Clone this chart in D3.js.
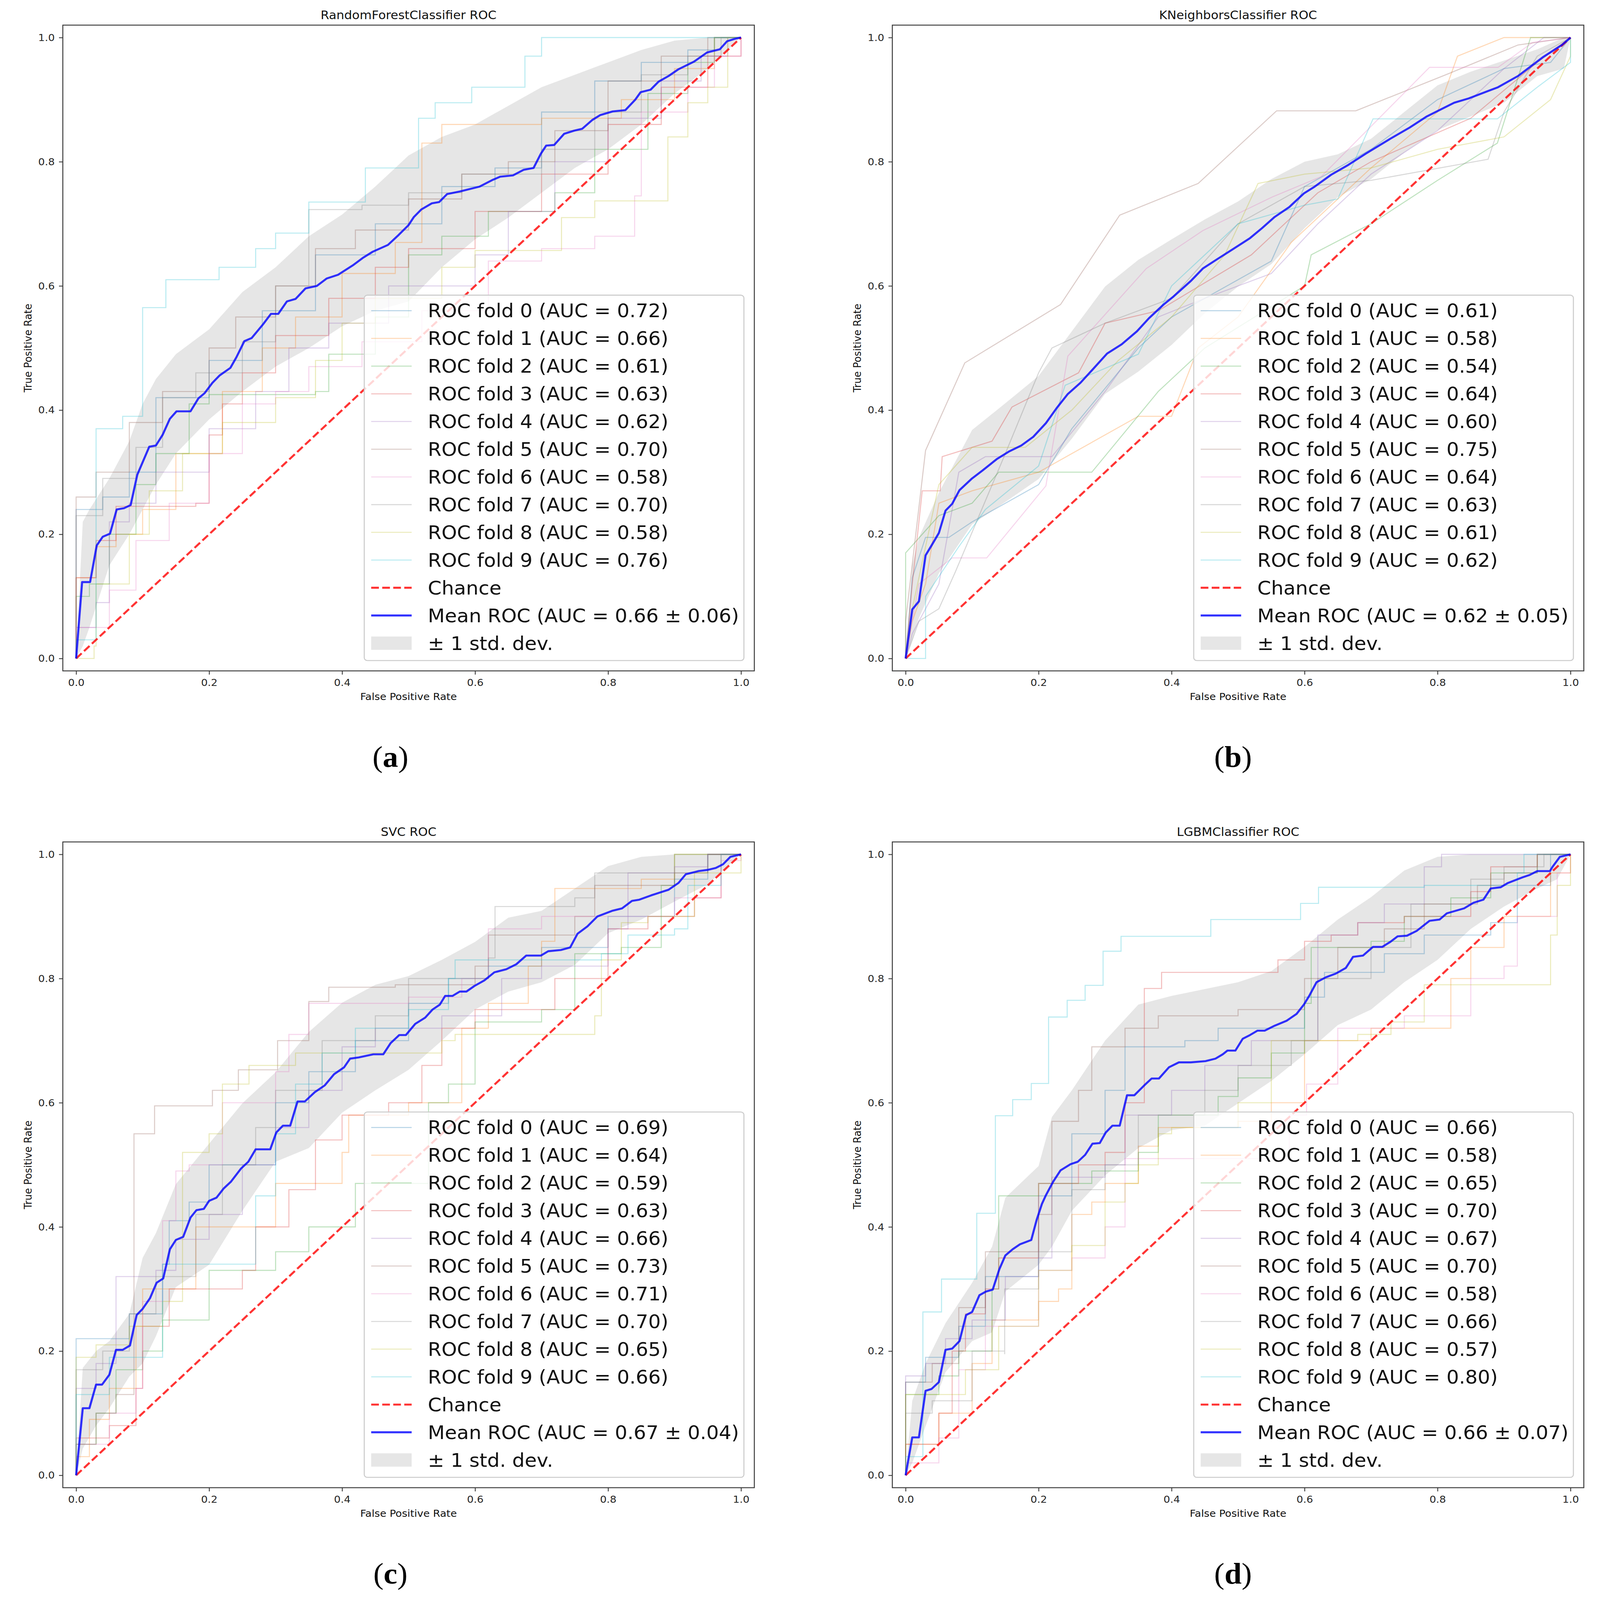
<!DOCTYPE html>
<html>
<head>
<meta charset="utf-8">
<script src="https://cdn.jsdelivr.net/npm/d3@7"></script>
<style>
  html, body { margin: 0; padding: 0; background: #fff; overflow: hidden; }
  svg { display: block; font-family: "DejaVu Sans", sans-serif; width: 100vw; height: 100vh; }
</style>
</head>
<body>
<div id="chart"></div>
<script>
// ---- data ----
const titles = ["RandomForestClassifier ROC", "KNeighborsClassifier ROC", "SVC ROC", "LGBMClassifier ROC"];
const captions = ["a", "b", "c", "d"];
const axisTicks = [0, 0.2, 0.4, 0.6, 0.8, 1.0];

const foldAuc = [
  [0.72, 0.66, 0.61, 0.63, 0.62, 0.70, 0.58, 0.70, 0.58, 0.76],
  [0.61, 0.58, 0.54, 0.64, 0.60, 0.75, 0.64, 0.63, 0.61, 0.62],
  [0.69, 0.64, 0.59, 0.63, 0.66, 0.73, 0.71, 0.70, 0.65, 0.66],
  [0.66, 0.58, 0.65, 0.70, 0.67, 0.70, 0.58, 0.66, 0.57, 0.80]
];
const meanAuc = [0.66, 0.62, 0.67, 0.66];
const stdAuc = [0.06, 0.05, 0.04, 0.07];

// mean ROC curves [fpr, tpr]
const meanA = [[0,0],[0.009,0.123],[0.021,0.123],[0.031,0.182],[0.04,0.196],[0.051,0.201],[0.061,0.24],[0.072,0.242],[0.082,0.247],[0.092,0.296],[0.11,0.341],[0.12,0.343],[0.13,0.36],[0.141,0.386],[0.151,0.398],[0.172,0.398],[0.184,0.419],[0.193,0.427],[0.205,0.444],[0.216,0.456],[0.232,0.468],[0.241,0.485],[0.253,0.511],[0.264,0.516],[0.281,0.538],[0.293,0.555],[0.304,0.555],[0.317,0.575],[0.33,0.579],[0.345,0.596],[0.362,0.6],[0.377,0.612],[0.394,0.618],[0.416,0.633],[0.431,0.645],[0.446,0.655],[0.469,0.666],[0.485,0.682],[0.5,0.698],[0.508,0.711],[0.519,0.723],[0.535,0.733],[0.546,0.735],[0.558,0.748],[0.577,0.752],[0.607,0.76],[0.627,0.771],[0.638,0.776],[0.657,0.778],[0.673,0.787],[0.688,0.79],[0.699,0.813],[0.707,0.826],[0.719,0.827],[0.734,0.845],[0.749,0.85],[0.761,0.853],[0.776,0.867],[0.788,0.875],[0.807,0.881],[0.826,0.883],[0.841,0.9],[0.849,0.912],[0.864,0.916],[0.876,0.929],[0.891,0.938],[0.906,0.949],[0.929,0.961],[0.949,0.976],[0.968,0.981],[0.979,0.994],[0.991,0.998],[1,1]];
const meanB = [[0,0],[0.01,0.079],[0.02,0.092],[0.03,0.166],[0.039,0.182],[0.05,0.202],[0.06,0.238],[0.07,0.249],[0.081,0.271],[0.1,0.29],[0.116,0.303],[0.137,0.321],[0.155,0.333],[0.174,0.343],[0.192,0.357],[0.211,0.379],[0.227,0.403],[0.244,0.426],[0.263,0.444],[0.281,0.465],[0.303,0.491],[0.325,0.506],[0.348,0.527],[0.366,0.548],[0.388,0.57],[0.403,0.583],[0.429,0.608],[0.447,0.628],[0.47,0.644],[0.492,0.659],[0.518,0.677],[0.536,0.693],[0.555,0.711],[0.577,0.727],[0.599,0.749],[0.614,0.759],[0.64,0.779],[0.666,0.795],[0.692,0.813],[0.729,0.837],[0.758,0.855],[0.784,0.873],[0.825,0.895],[0.847,0.902],[0.891,0.92],[0.921,0.938],[0.958,0.968],[0.987,0.988],[1,1]];
const meanC = [[0,0],[0.01,0.108],[0.02,0.108],[0.03,0.146],[0.039,0.146],[0.05,0.162],[0.06,0.202],[0.07,0.202],[0.081,0.209],[0.091,0.258],[0.1,0.268],[0.111,0.285],[0.121,0.31],[0.131,0.317],[0.141,0.364],[0.15,0.379],[0.161,0.384],[0.172,0.415],[0.181,0.427],[0.192,0.429],[0.2,0.442],[0.211,0.447],[0.222,0.462],[0.233,0.473],[0.248,0.494],[0.259,0.505],[0.27,0.525],[0.292,0.525],[0.301,0.552],[0.311,0.563],[0.322,0.563],[0.333,0.602],[0.344,0.602],[0.359,0.617],[0.374,0.628],[0.388,0.646],[0.403,0.657],[0.412,0.671],[0.425,0.673],[0.447,0.678],[0.462,0.678],[0.473,0.696],[0.486,0.709],[0.496,0.709],[0.51,0.727],[0.525,0.737],[0.536,0.75],[0.547,0.758],[0.555,0.772],[0.566,0.772],[0.577,0.779],[0.587,0.779],[0.599,0.788],[0.614,0.797],[0.629,0.81],[0.647,0.815],[0.662,0.823],[0.677,0.837],[0.699,0.837],[0.71,0.844],[0.729,0.846],[0.743,0.85],[0.754,0.872],[0.769,0.884],[0.784,0.9],[0.806,0.909],[0.821,0.913],[0.836,0.925],[0.847,0.927],[0.865,0.934],[0.891,0.943],[0.906,0.954],[0.917,0.968],[0.936,0.973],[0.95,0.975],[0.962,0.978],[0.973,0.984],[0.984,0.996],[1,1]];
const meanD = [[0,0],[0.01,0.061],[0.02,0.061],[0.03,0.136],[0.039,0.139],[0.05,0.15],[0.06,0.202],[0.07,0.204],[0.081,0.216],[0.091,0.258],[0.1,0.263],[0.111,0.29],[0.121,0.296],[0.131,0.299],[0.141,0.332],[0.15,0.354],[0.161,0.364],[0.172,0.372],[0.189,0.379],[0.197,0.411],[0.205,0.437],[0.211,0.451],[0.222,0.473],[0.233,0.491],[0.248,0.501],[0.259,0.505],[0.27,0.516],[0.281,0.534],[0.292,0.535],[0.301,0.552],[0.311,0.563],[0.322,0.563],[0.333,0.612],[0.344,0.612],[0.359,0.628],[0.37,0.639],[0.381,0.639],[0.396,0.657],[0.411,0.665],[0.429,0.665],[0.451,0.667],[0.466,0.671],[0.477,0.678],[0.484,0.684],[0.496,0.684],[0.507,0.703],[0.518,0.709],[0.529,0.716],[0.54,0.716],[0.555,0.724],[0.573,0.732],[0.588,0.743],[0.599,0.758],[0.607,0.772],[0.618,0.794],[0.632,0.802],[0.647,0.808],[0.662,0.817],[0.673,0.835],[0.688,0.837],[0.703,0.851],[0.717,0.851],[0.729,0.859],[0.74,0.868],[0.754,0.869],[0.769,0.877],[0.788,0.893],[0.803,0.895],[0.814,0.905],[0.84,0.913],[0.854,0.922],[0.869,0.927],[0.88,0.945],[0.895,0.947],[0.906,0.954],[0.928,0.963],[0.939,0.967],[0.95,0.973],[0.969,0.973],[0.973,0.98],[0.984,0.996],[1,1]];

// ±1 std band [fpr, lower, upper]
const bandA = [[0,0,0],[0.01,0.02,0.22],[0.02,0.05,0.24],[0.05,0.15,0.29],[0.08,0.2,0.35],[0.1,0.24,0.41],[0.12,0.28,0.45],[0.15,0.33,0.49],[0.2,0.385,0.53],[0.25,0.43,0.59],[0.3,0.47,0.63],[0.35,0.5,0.68],[0.4,0.535,0.715],[0.45,0.56,0.76],[0.5,0.575,0.81],[0.55,0.63,0.84],[0.6,0.675,0.86],[0.65,0.71,0.89],[0.7,0.75,0.92],[0.75,0.79,0.94],[0.8,0.82,0.96],[0.85,0.86,0.98],[0.9,0.91,0.995],[0.95,0.95,1],[1,1,1]];
const bandB = [[0,0,0],[0.01,0.03,0.15],[0.02,0.065,0.195],[0.05,0.137,0.267],[0.1,0.216,0.368],[0.15,0.252,0.411],[0.2,0.289,0.455],[0.25,0.354,0.527],[0.3,0.426,0.599],[0.35,0.462,0.642],[0.4,0.505,0.675],[0.45,0.556,0.707],[0.5,0.599,0.736],[0.55,0.635,0.772],[0.6,0.693,0.8],[0.65,0.743,0.812],[0.7,0.772,0.837],[0.75,0.815,0.88],[0.8,0.851,0.923],[0.85,0.873,0.945],[0.9,0.895,0.963],[0.95,0.938,0.981],[0.99,0.95,1],[1,1,1]];
const bandC = [[0,0,0],[0.01,0.043,0.173],[0.03,0.08,0.2],[0.05,0.108,0.216],[0.08,0.159,0.26],[0.1,0.18,0.35],[0.12,0.224,0.39],[0.15,0.303,0.469],[0.2,0.339,0.534],[0.25,0.426,0.599],[0.3,0.505,0.649],[0.35,0.527,0.714],[0.4,0.584,0.761],[0.45,0.62,0.79],[0.5,0.653,0.804],[0.55,0.7,0.83],[0.6,0.75,0.859],[0.65,0.779,0.898],[0.7,0.794,0.909],[0.75,0.822,0.945],[0.8,0.873,0.981],[0.85,0.895,0.996],[0.9,0.924,1],[0.95,0.952,1],[1,1,1]];
const bandD = [[0,0,0],[0.01,0.02,0.12],[0.03,0.079,0.18],[0.06,0.166,0.245],[0.1,0.216,0.31],[0.13,0.23,0.368],[0.15,0.296,0.447],[0.2,0.339,0.498],[0.22,0.368,0.577],[0.25,0.426,0.62],[0.3,0.483,0.7],[0.35,0.527,0.758],[0.4,0.556,0.772],[0.45,0.563,0.783],[0.5,0.599,0.794],[0.55,0.635,0.812],[0.6,0.678,0.851],[0.65,0.725,0.895],[0.7,0.75,0.931],[0.75,0.794,0.974],[0.8,0.83,0.996],[0.85,0.88,1],[0.9,0.916,1],[0.95,0.945,1],[0.98,0.96,1],[1,1,1]];

// individual folds; a, c, d are step curves (rise to tpr at fpr), b is a polyline
const foldsA = [
  [[0,0],[0,0.24],[0.04,0.26],[0.08,0.30],[0.12,0.42],[0.2,0.48],[0.28,0.56],[0.36,0.65],[0.45,0.70],[0.55,0.76],[0.63,0.79],[0.7,0.88],[0.78,0.93],[0.85,0.96],[0.92,0.98],[0.96,1],[1,1]],
  [[0,0],[0,0.13],[0.03,0.18],[0.06,0.2],[0.1,0.24],[0.15,0.33],[0.22,0.43],[0.28,0.5],[0.33,0.55],[0.4,0.62],[0.48,0.67],[0.52,0.83],[0.55,0.86],[0.7,0.87],[0.82,0.9],[0.9,0.95],[0.96,1],[1,1]],
  [[0,0],[0,0.1],[0.02,0.12],[0.05,0.2],[0.09,0.28],[0.12,0.33],[0.17,0.41],[0.2,0.425],[0.36,0.43],[0.38,0.49],[0.45,0.55],[0.5,0.65],[0.55,0.68],[0.62,0.72],[0.72,0.75],[0.78,0.82],[0.86,0.91],[0.92,0.96],[0.96,1],[1,1]],
  [[0,0],[0,0.13],[0.03,0.19],[0.06,0.245],[0.18,0.25],[0.2,0.36],[0.22,0.41],[0.25,0.46],[0.3,0.52],[0.38,0.58],[0.45,0.63],[0.5,0.66],[0.6,0.72],[0.7,0.78],[0.8,0.86],[0.88,0.92],[0.95,0.97],[1,1]],
  [[0,0],[0,0.05],[0.03,0.09],[0.05,0.22],[0.08,0.25],[0.12,0.3],[0.2,0.37],[0.27,0.43],[0.32,0.5],[0.38,0.54],[0.47,0.6],[0.6,0.65],[0.65,0.72],[0.72,0.8],[0.8,0.87],[0.88,0.93],[0.94,0.97],[0.98,1],[1,1]],
  [[0,0],[0,0.26],[0.03,0.3],[0.08,0.38],[0.13,0.43],[0.2,0.5],[0.24,0.55],[0.3,0.6],[0.36,0.66],[0.42,0.69],[0.5,0.74],[0.58,0.78],[0.65,0.8],[0.72,0.85],[0.8,0.93],[0.88,0.97],[0.95,1],[1,1]],
  [[0,0],[0,0.05],[0.05,0.11],[0.09,0.19],[0.14,0.25],[0.2,0.33],[0.25,0.41],[0.3,0.43],[0.35,0.47],[0.43,0.51],[0.52,0.56],[0.62,0.64],[0.7,0.66],[0.78,0.68],[0.84,0.745],[0.85,0.88],[0.92,0.92],[0.96,0.97],[1,1]],
  [[0,0],[0,0.23],[0.04,0.29],[0.09,0.34],[0.13,0.42],[0.18,0.46],[0.25,0.51],[0.3,0.6],[0.35,0.723],[0.43,0.73],[0.5,0.75],[0.58,0.78],[0.7,0.82],[0.78,0.88],[0.85,0.94],[0.92,0.97],[0.97,1],[1,1]],
  [[0,0],[0.027,0.02],[0.03,0.12],[0.08,0.2],[0.11,0.27],[0.16,0.33],[0.22,0.38],[0.3,0.42],[0.36,0.48],[0.4,0.54],[0.45,0.58],[0.55,0.63],[0.6,0.657],[0.73,0.71],[0.78,0.737],[0.89,0.84],[0.92,0.895],[0.95,0.92],[0.98,1],[1,1]],
  [[0,0],[0,0.03],[0.03,0.37],[0.07,0.39],[0.1,0.565],[0.135,0.61],[0.215,0.63],[0.27,0.66],[0.3,0.685],[0.35,0.735],[0.435,0.79],[0.515,0.87],[0.54,0.895],[0.595,0.92],[0.675,0.97],[0.7,1],[1,1]]
];
const foldsB = [
  [[0,0],[0.01,0.13],[0.03,0.195],[0.065,0.195],[0.1,0.22],[0.2,0.28],[0.25,0.37],[0.35,0.5],[0.4,0.55],[0.55,0.64],[0.6,0.76],[0.7,0.82],[0.8,0.9],[0.9,0.95],[0.97,0.96],[1,1]],
  [[0,0],[0.01,0.06],[0.03,0.12],[0.05,0.25],[0.1,0.27],[0.2,0.3],[0.35,0.39],[0.4,0.39],[0.44,0.5],[0.5,0.55],[0.58,0.67],[0.7,0.79],[0.8,0.88],[0.83,0.97],[0.9,1],[1,1]],
  [[0,0],[0,0.17],[0.05,0.23],[0.1,0.25],[0.14,0.3],[0.28,0.3],[0.38,0.43],[0.45,0.5],[0.6,0.6],[0.61,0.65],[0.7,0.7],[0.8,0.77],[0.89,0.83],[0.94,1],[1,1]],
  [[0,0],[0.01,0.12],[0.025,0.27],[0.052,0.27],[0.055,0.325],[0.13,0.35],[0.16,0.405],[0.26,0.46],[0.3,0.54],[0.38,0.56],[0.52,0.65],[0.62,0.75],[0.7,0.8],[0.85,0.87],[0.95,0.96],[1,1]],
  [[0,0],[0.01,0.04],[0.05,0.12],[0.08,0.3],[0.12,0.325],[0.22,0.325],[0.3,0.43],[0.38,0.55],[0.45,0.58],[0.55,0.62],[0.62,0.7],[0.7,0.78],[0.8,0.85],[0.9,0.95],[0.96,1],[1,1]],
  [[0,0],[0,0.06],[0.03,0.335],[0.089,0.476],[0.233,0.57],[0.322,0.714],[0.44,0.765],[0.558,0.882],[0.677,0.882],[0.817,0.942],[0.921,0.988],[1,1]],
  [[0,0],[0.02,0.12],[0.07,0.162],[0.122,0.162],[0.211,0.278],[0.244,0.487],[0.362,0.628],[0.447,0.689],[0.551,0.743],[0.625,0.776],[0.788,0.952],[0.891,0.952],[0.943,0.992],[1,1]],
  [[0,0],[0.02,0.06],[0.05,0.08],[0.075,0.14],[0.15,0.33],[0.2,0.46],[0.22,0.5],[0.3,0.54],[0.4,0.58],[0.5,0.7],[0.6,0.76],[0.7,0.77],[0.876,0.804],[0.9,0.88],[0.95,0.97],[1,1]],
  [[0,0],[0.01,0.08],[0.05,0.28],[0.1,0.34],[0.18,0.34],[0.25,0.4],[0.32,0.48],[0.4,0.55],[0.48,0.65],[0.53,0.765],[0.6,0.78],[0.7,0.79],[0.8,0.82],[0.9,0.84],[0.97,0.9],[1,0.97],[1,1]],
  [[0,0],[0.03,0],[0.03,0.1],[0.08,0.18],[0.12,0.24],[0.2,0.31],[0.24,0.44],[0.35,0.49],[0.4,0.6],[0.5,0.7],[0.6,0.73],[0.65,0.74],[0.703,0.869],[0.89,0.869],[0.95,0.92],[1,0.96],[1,1]]
];
const foldsC = [
  [[0,0],[0,0.22],[0.05,0.22],[0.08,0.26],[0.13,0.34],[0.14,0.41],[0.17,0.44],[0.2,0.5],[0.3,0.6],[0.35,0.65],[0.42,0.7],[0.5,0.76],[0.56,0.8],[0.62,0.82],[0.7,0.85],[0.8,0.9],[0.9,0.96],[0.95,1],[1,1]],
  [[0,0],[0,0.03],[0.02,0.09],[0.05,0.14],[0.09,0.24],[0.1,0.3],[0.18,0.4],[0.3,0.47],[0.4,0.52],[0.41,0.58],[0.5,0.6],[0.58,0.72],[0.62,0.76],[0.68,0.82],[0.7,0.86],[0.72,0.945],[0.85,0.96],[0.9,1],[1,1]],
  [[0,0],[0,0.05],[0.03,0.1],[0.06,0.17],[0.1,0.2],[0.13,0.25],[0.2,0.33],[0.3,0.36],[0.35,0.4],[0.42,0.47],[0.53,0.6],[0.56,0.63],[0.6,0.73],[0.7,0.75],[0.75,0.84],[0.82,0.85],[0.88,0.95],[0.9,1],[1,1]],
  [[0,0],[0,0.06],[0.05,0.08],[0.09,0.14],[0.1,0.24],[0.14,0.3],[0.25,0.33],[0.27,0.4],[0.32,0.46],[0.36,0.54],[0.4,0.58],[0.47,0.6],[0.52,0.66],[0.55,0.72],[0.6,0.75],[0.72,0.8],[0.8,0.88],[0.86,0.9],[0.93,0.93],[0.97,1],[1,1]],
  [[0,0],[0,0.14],[0.03,0.18],[0.06,0.32],[0.12,0.33],[0.15,0.38],[0.2,0.42],[0.25,0.5],[0.3,0.56],[0.35,0.62],[0.4,0.69],[0.45,0.72],[0.55,0.74],[0.64,0.8],[0.7,0.82],[0.8,0.88],[0.83,0.97],[0.9,0.98],[0.95,1],[1,1]],
  [[0,0],[0,0.05],[0.03,0.1],[0.06,0.13],[0.087,0.55],[0.118,0.595],[0.205,0.62],[0.244,0.653],[0.303,0.7],[0.35,0.763],[0.38,0.786],[0.48,0.79],[0.6,0.82],[0.62,0.87],[0.75,0.9],[0.78,0.95],[0.9,0.97],[0.95,1],[1,1]],
  [[0,0],[0,0.05],[0.05,0.1],[0.09,0.14],[0.1,0.28],[0.13,0.41],[0.15,0.49],[0.17,0.5],[0.22,0.6],[0.3,0.65],[0.32,0.71],[0.35,0.76],[0.5,0.77],[0.58,0.8],[0.62,0.88],[0.7,0.9],[0.87,0.9],[0.9,0.93],[0.97,0.99],[1,1]],
  [[0,0],[0,0.17],[0.04,0.2],[0.08,0.26],[0.12,0.32],[0.18,0.42],[0.22,0.5],[0.27,0.56],[0.3,0.62],[0.37,0.7],[0.45,0.74],[0.5,0.8],[0.62,0.833],[0.63,0.916],[0.75,0.93],[0.78,0.97],[0.9,0.97],[0.95,1],[1,1]],
  [[0,0],[0,0.19],[0.03,0.21],[0.08,0.24],[0.13,0.28],[0.16,0.52],[0.2,0.55],[0.22,0.63],[0.26,0.66],[0.33,0.68],[0.4,0.68],[0.55,0.7],[0.57,0.71],[0.78,0.74],[0.79,0.83],[0.82,0.89],[0.86,0.9],[0.93,0.97],[1,0.98],[1,1]],
  [[0,0],[0,0.13],[0.02,0.13],[0.05,0.19],[0.13,0.21],[0.13,0.34],[0.27,0.35],[0.27,0.45],[0.3,0.55],[0.33,0.63],[0.37,0.68],[0.42,0.72],[0.5,0.75],[0.56,0.8],[0.57,0.83],[0.79,0.84],[0.83,0.87],[0.9,0.88],[0.92,0.95],[0.97,1],[1,1]]
];
const foldsD = [
  [[0,0],[0,0.15],[0.03,0.19],[0.08,0.24],[0.12,0.32],[0.2,0.45],[0.25,0.55],[0.3,0.62],[0.33,0.69],[0.42,0.7],[0.47,0.72],[0.6,0.77],[0.63,0.81],[0.72,0.84],[0.78,0.87],[0.88,0.89],[0.92,0.95],[0.97,1],[1,1]],
  [[0,0],[0,0.05],[0.05,0.1],[0.1,0.18],[0.13,0.25],[0.2,0.28],[0.23,0.3],[0.25,0.42],[0.28,0.44],[0.3,0.47],[0.35,0.53],[0.38,0.56],[0.5,0.57],[0.55,0.6],[0.6,0.7],[0.7,0.72],[0.82,0.8],[0.85,0.85],[0.9,0.9],[0.97,0.97],[1,1]],
  [[0,0],[0,0.13],[0.05,0.16],[0.08,0.2],[0.13,0.3],[0.14,0.45],[0.2,0.47],[0.28,0.49],[0.35,0.52],[0.38,0.58],[0.47,0.61],[0.5,0.64],[0.55,0.68],[0.6,0.76],[0.61,0.85],[0.7,0.86],[0.75,0.9],[0.82,0.93],[0.88,0.97],[0.95,1],[1,1]],
  [[0,0],[0,0.05],[0.05,0.1],[0.07,0.2],[0.09,0.26],[0.12,0.3],[0.14,0.35],[0.2,0.47],[0.26,0.5],[0.3,0.52],[0.33,0.6],[0.359,0.784],[0.385,0.81],[0.56,0.83],[0.6,0.86],[0.64,0.87],[0.68,0.89],[0.75,0.9],[0.85,0.94],[0.88,0.98],[0.95,1],[1,1]],
  [[0,0],[0,0.16],[0.03,0.18],[0.06,0.22],[0.1,0.25],[0.15,0.32],[0.2,0.35],[0.22,0.48],[0.3,0.5],[0.33,0.58],[0.4,0.62],[0.45,0.66],[0.52,0.7],[0.62,0.87],[0.68,0.89],[0.72,0.92],[0.78,0.98],[0.806,1],[1,1]],
  [[0,0],[0,0.15],[0.04,0.18],[0.08,0.27],[0.12,0.36],[0.2,0.42],[0.22,0.57],[0.26,0.62],[0.28,0.69],[0.33,0.72],[0.38,0.74],[0.5,0.75],[0.6,0.8],[0.65,0.85],[0.72,0.88],[0.78,0.92],[0.86,0.95],[0.9,0.97],[0.95,1],[1,1]],
  [[0,0],[0,0.02],[0.05,0.06],[0.08,0.17],[0.12,0.24],[0.2,0.33],[0.25,0.35],[0.3,0.4],[0.33,0.51],[0.577,0.51],[0.577,0.58],[0.603,0.63],[0.65,0.72],[0.75,0.74],[0.85,0.8],[0.9,0.82],[0.92,0.9],[0.98,0.97],[1,1]],
  [[0,0],[0,0.1],[0.04,0.12],[0.1,0.2],[0.149,0.195],[0.149,0.3],[0.2,0.36],[0.25,0.46],[0.3,0.5],[0.35,0.58],[0.45,0.62],[0.5,0.66],[0.58,0.7],[0.62,0.8],[0.7,0.85],[0.76,0.92],[0.85,0.96],[0.9,0.98],[0.96,1],[1,1]],
  [[0,0],[0,0.13],[0.08,0.13],[0.09,0.17],[0.14,0.24],[0.2,0.33],[0.25,0.37],[0.3,0.44],[0.33,0.47],[0.35,0.5],[0.38,0.55],[0.4,0.56],[0.5,0.6],[0.55,0.7],[0.68,0.71],[0.73,0.73],[0.78,0.79],[0.97,0.87],[0.98,0.95],[1,1]],
  [[0,0],[0,0.03],[0.026,0.263],[0.054,0.316],[0.107,0.422],[0.135,0.579],[0.161,0.605],[0.189,0.631],[0.215,0.738],[0.243,0.765],[0.27,0.789],[0.297,0.844],[0.324,0.868],[0.459,0.895],[0.594,0.921],[0.621,0.947],[0.78,0.95],[0.92,0.97],[0.93,1],[1,1]]
];

const panels = [
  { title: titles[0], cap: captions[0], folds: foldsA, mean: meanA, band: bandA, auc: foldAuc[0], m: meanAuc[0], s: stdAuc[0], stepped: true },
  { title: titles[1], cap: captions[1], folds: foldsB, mean: meanB, band: bandB, auc: foldAuc[1], m: meanAuc[1], s: stdAuc[1], stepped: false },
  { title: titles[2], cap: captions[2], folds: foldsC, mean: meanC, band: bandC, auc: foldAuc[2], m: meanAuc[2], s: stdAuc[2], stepped: true },
  { title: titles[3], cap: captions[3], folds: foldsD, mean: meanD, band: bandD, auc: foldAuc[3], m: meanAuc[3], s: stdAuc[3], stepped: true }
];

// ---- layout ----
const W = 4151, H = 4331;
const origins = [[0, 0], [2152, 0], [0, 2211], [2152, 2211]];
const capPos = [[1013, 2076], [3199, 2076], [1013, 4287], [3199, 4287]];
const frame = { left: 163, top: 68, right: 1957, bottom: 1816 };
const tab10 = ["#1f77b4", "#ff7f0e", "#2ca02c", "#d62728", "#9467bd", "#8c564b", "#e377c2", "#7f7f7f", "#bcbd22", "#17becf"];

const x = d3.scaleLinear().domain([-0.02, 1.02]).range([frame.left, frame.right]);
const y = d3.scaleLinear().domain([-0.02, 1.02]).range([frame.bottom, frame.top]);

// the window is smaller than the figure, so stretch the figure's box onto it
const svg = d3.select("#chart").append("svg")
  .attr("viewBox", `0 0 ${W} ${H}`)
  .attr("preserveAspectRatio", "none");
svg.append("rect").attr("width", W).attr("height", H).attr("fill", "#fff");

panels.forEach((p, i) => {
  const g = svg.append("g").attr("transform", `translate(${origins[i][0]},${origins[i][1]})`);

  g.append("clipPath").attr("id", "clip" + i).append("rect")
    .attr("x", frame.left).attr("y", frame.top)
    .attr("width", frame.right - frame.left).attr("height", frame.bottom - frame.top);
  const plot = g.append("g").attr("clip-path", `url(#clip${i})`);

  // std band (drawn below the lines, like matplotlib's PolyCollection)
  plot.append("path").datum(p.band)
    .attr("d", d3.area().x(d => x(d[0])).y0(d => y(d[1])).y1(d => y(d[2])))
    .attr("fill", "grey").attr("fill-opacity", 0.2);

  const foldLine = d3.line().x(d => x(d[0])).y(d => y(d[1]))
    .curve(p.stepped ? d3.curveStepAfter : d3.curveLinear);
  p.folds.forEach((f, k) => {
    plot.append("path").datum(f).attr("d", foldLine)
      .attr("fill", "none").attr("stroke", tab10[k])
      .attr("stroke-width", 2.7).attr("stroke-opacity", 0.3);
  });

  const line = d3.line().x(d => x(d[0])).y(d => y(d[1]));
  plot.append("path").datum([[0, 0], [1, 1]]).attr("d", line)
    .attr("fill", "none").attr("stroke", "red").attr("stroke-opacity", 0.8)
    .attr("stroke-width", 5.4).attr("stroke-dasharray", "20,8.6");
  plot.append("path").datum(p.mean).attr("d", line)
    .attr("fill", "none").attr("stroke", "blue").attr("stroke-opacity", 0.8)
    .attr("stroke-width", 5.4).attr("stroke-linejoin", "round");

  // axes
  const xAxis = g.append("g").attr("transform", `translate(0,${frame.bottom})`)
    .call(d3.axisBottom(x).tickValues(axisTicks).tickFormat(d3.format(".1f")).tickSize(10).tickPadding(12));
  const yAxis = g.append("g").attr("transform", `translate(${frame.left},0)`)
    .call(d3.axisLeft(y).tickValues(axisTicks).tickFormat(d3.format(".1f")).tickSize(10).tickPadding(11));
  [xAxis, yAxis].forEach(a => {
    a.select(".domain").remove();
    a.selectAll("line").attr("stroke", "#333").attr("stroke-width", 2.2);
    a.selectAll("text").attr("font-family", "DejaVu Sans").attr("font-size", 27).attr("fill", "#262626");
  });

  g.append("rect").attr("x", frame.left).attr("y", frame.top)
    .attr("width", frame.right - frame.left).attr("height", frame.bottom - frame.top)
    .attr("fill", "none").attr("stroke", "#3a3a3a").attr("stroke-width", 2.5);

  const cx = (frame.left + frame.right) / 2;
  g.append("text").attr("x", cx).attr("y", 52).attr("text-anchor", "middle")
    .attr("font-size", 32).attr("fill", "#111").text(p.title);
  g.append("text").attr("x", cx).attr("y", 1895).attr("text-anchor", "middle")
    .attr("font-size", 27).attr("fill", "#111").text("False Positive Rate");
  g.append("text").attr("transform", `translate(82,${(frame.top + frame.bottom) / 2}) rotate(-90)`)
    .attr("text-anchor", "middle").attr("font-size", 27).attr("fill", "#111").text("True Positive Rate");

  // legend
  const lg = g.append("g").attr("transform", "translate(945,799)");
  lg.append("rect").attr("width", 985).attr("height", 989).attr("rx", 8)
    .attr("fill", "#fff").attr("fill-opacity", 0.8)
    .attr("stroke", "#cccccc").attr("stroke-width", 2.7);
  const entries = p.auc.map((a, k) => ({ label: `ROC fold ${k} (AUC = ${a.toFixed(2)})`, kind: "fold", color: tab10[k] }));
  entries.push({ label: "Chance", kind: "chance" });
  entries.push({ label: `Mean ROC (AUC = ${p.m.toFixed(2)} \u00b1 ${p.s.toFixed(2)})`, kind: "mean" });
  entries.push({ label: "\u00b1 1 std. dev.", kind: "band" });
  entries.forEach((e, k) => {
    const cy = 42 + k * 75;
    if (e.kind === "band") {
      lg.append("rect").attr("x", 18).attr("y", cy - 18).attr("width", 105).attr("height", 36)
        .attr("fill", "grey").attr("fill-opacity", 0.2);
    } else {
      const h = lg.append("line").attr("x1", 18).attr("x2", 123).attr("y1", cy).attr("y2", cy);
      if (e.kind === "fold") h.attr("stroke", e.color).attr("stroke-width", 2.7).attr("stroke-opacity", 0.3);
      if (e.kind === "chance") h.attr("stroke", "red").attr("stroke-opacity", 0.8).attr("stroke-width", 5.4).attr("stroke-dasharray", "20,8.6");
      if (e.kind === "mean") h.attr("stroke", "blue").attr("stroke-opacity", 0.8).attr("stroke-width", 5.4);
    }
    lg.append("text").attr("x", 165).attr("y", cy + 18).attr("font-size", 51).attr("fill", "#111").text(e.label);
  });

  // caption
  const cap = svg.append("text").attr("x", capPos[i][0]).attr("y", capPos[i][1])
    .attr("text-anchor", "middle").attr("font-family", "Liberation Serif")
    .attr("font-size", 80).attr("fill", "#000");
  cap.append("tspan").text("(");
  cap.append("tspan").attr("font-weight", "bold").text(p.cap);
  cap.append("tspan").text(")");
});
</script>
</body>
</html>
